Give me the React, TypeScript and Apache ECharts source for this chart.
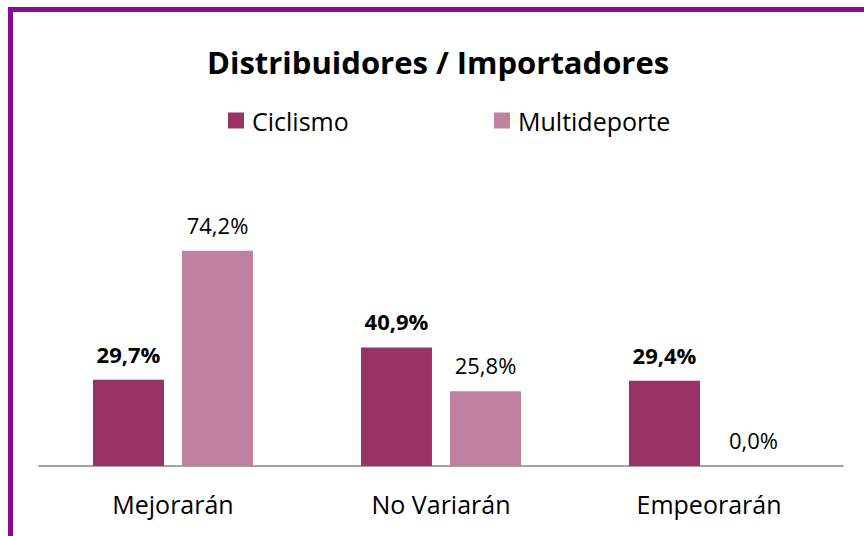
import React, { useEffect, useRef } from "react";
import * as echarts from "echarts";

const categories = ["Mejorarán", "No Variarán", "Empeorarán"];
const ciclismo = [29.7, 40.9, 29.4];
const multideporte = [74.2, 25.8, 0.0];
const titleText = "Distribuidores / Importadores";
const seriesNames = ["Ciclismo", "Multideporte"];

const FONT = "'Open Sans', sans-serif";

export default function App() {
  const ref = useRef<HTMLDivElement>(null);
  useEffect(() => {
    if (!ref.current) return;
    const chart = echarts.init(ref.current, null, { renderer: "svg" });
    const fmt = (p: any) => p.value.toFixed(1).replace(".", ",") + "%";
    chart.setOption({
      animation: false,
      backgroundColor: "#ffffff",
      textStyle: { fontFamily: FONT },
      title: {
        text: titleText,
        left: 207,
        top: 46,
        padding: 0,
        textStyle: { fontFamily: FONT, fontSize: 31, fontWeight: "bold", color: "#000" },
      },
      legend: [
        {
          data: [seriesNames[0]],
          left: 228,
          top: 108,
          padding: 0,
          itemWidth: 16,
          itemHeight: 16,
          icon: "rect",
          textStyle: { fontFamily: FONT, fontSize: 25, color: "#000", padding: [0, 0, 0, 3] },
        },
        {
          data: [seriesNames[1]],
          left: 494,
          top: 108,
          padding: 0,
          itemWidth: 16,
          itemHeight: 16,
          icon: "rect",
          textStyle: { fontFamily: FONT, fontSize: 25, color: "#000", padding: [0, 0, 0, 3] },
        },
      ],
      graphic: [
        {
          type: "rect",
          shape: { x: 10.5, y: 9.5, width: 1000, height: 1000 },
          style: { fill: "none", stroke: "#8B0A8B", lineWidth: 5 },
          silent: true,
        },
      ],
      grid: { left: 39, right: 21, top: 234, bottom: 70 },
      xAxis: {
        type: "category",
        data: categories,
        axisLine: { lineStyle: { color: "#868686", width: 1.5 } },
        axisTick: { show: false },
        axisLabel: { fontFamily: FONT, fontSize: 25, color: "#000", margin: 25 },
      },
      yAxis: {
        type: "value",
        min: 0,
        max: 80,
        show: false,
        splitLine: { show: false },
      },
      series: [
        {
          name: seriesNames[0],
          type: "bar",
          data: ciclismo,
          barWidth: 71,
          barGap: "25.4%",
          itemStyle: { color: "#993366" },
          label: {
            show: true,
            position: "top",
            distance: 15,
            formatter: fmt,
            fontFamily: FONT,
            fontSize: 22,
            fontWeight: "bold",
            color: "#000",
          },
        },
        {
          name: seriesNames[1],
          type: "bar",
          data: multideporte,
          barWidth: 71,
          itemStyle: { color: "#C0809F" },
          label: {
            show: true,
            position: "top",
            distance: 15,
            formatter: fmt,
            fontFamily: FONT,
            fontSize: 22,
            color: "#000",
          },
        },
      ],
    });
    return () => chart.dispose();
  }, []);
  return (
    <div
      ref={ref}
      style={{ position: "absolute", left: 0, top: 0, width: 864, height: 536 }}
    />
  );
}
